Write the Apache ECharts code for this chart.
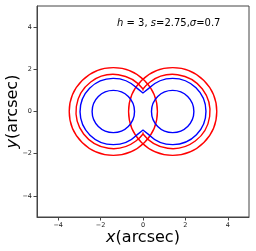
<!DOCTYPE html>
<html>
<head>
<meta charset="utf-8">
<script src="https://cdn.jsdelivr.net/npm/echarts@6/dist/echarts.min.js"></script>
<style>html,body{margin:0;padding:0;background:#fff}#c{width:256px;height:251px}</style>
</head>
<body>
<div id="c"></div>
<script>
// tick labels
const xTicks = [-4, -2, 0, 2, 4];
const yTicks = [-4, -2, 0, 2, 4];
// lobe centres (x, arcsec)
const lobeCenters = [-1.4, 1.4];
// inner blue circles: radius
const blueInnerR = [1.0, 1.0];
// outer red circles: radius
const redOuterR = [2.08, 2.08];
// outer blue peanut: [lobe radius, |y| of central apex, |x| where it leaves the circle]
const blueOuterShape = [1.57, 0.88, 0.3];
// inner red peanut: [lobe radius, |y| of central apex, |x| where it leaves the circle]
const redInnerShape = [1.76, 1.067, 0];

const chart = echarts.init(document.getElementById('c'), null, {renderer: 'canvas'});
const fmt = v => (v < 0 ? '\u2212' + Math.abs(v) : String(v));

function circleSeries(radii, color) {
  return {
    type: 'custom',
    coordinateSystem: 'cartesian2d',
    silent: true,
    data: lobeCenters.map((cx, i) => [cx, 0, radii[i]]),
    renderItem: function (params, api) {
      const c = api.coord([api.value(0), api.value(1)]);
      const s = api.size([api.value(2), api.value(2)]);
      return {
        type: 'ellipse',
        shape: {cx: c[0], cy: c[1], rx: s[0], ry: s[1]},
        style: {fill: 'none', stroke: color, lineWidth: 1.4}
      };
    }
  };
}

function peanutSeries(shape, color) {
  return {
    type: 'custom',
    coordinateSystem: 'cartesian2d',
    silent: true,
    data: [[shape[0], shape[1], shape[2]]],
    renderItem: function (params, api) {
      const r = api.value(0), a = api.value(1), j = api.value(2);
      const cx = lobeCenters[1];
      const yj = Math.sqrt(r * r - (cx - j) * (cx - j));
      const P1 = api.coord([0, a]);
      const P2 = api.coord([-j, yj]);
      const P3 = api.coord([-j, -yj]);
      const P4 = api.coord([0, -a]);
      const P5 = api.coord([j, -yj]);
      const P6 = api.coord([j, yj]);
      const s = api.size([r, r]);
      const d = 'M' + P1[0] + ' ' + P1[1] +
        ' L' + P2[0] + ' ' + P2[1] +
        ' A' + s[0] + ' ' + s[1] + ' 0 1 0 ' + P3[0] + ' ' + P3[1] +
        ' L' + P4[0] + ' ' + P4[1] +
        ' L' + P5[0] + ' ' + P5[1] +
        ' A' + s[0] + ' ' + s[1] + ' 0 1 0 ' + P6[0] + ' ' + P6[1] + ' Z';
      return {
        type: 'path',
        shape: {pathData: d},
        style: {fill: 'none', stroke: color, lineWidth: 1.4, lineJoin: 'miter'}
      };
    }
  };
}

const axisCommon = {
  type: 'value',
  min: -5,
  max: 5,
  splitLine: {show: false},
  axisLine: {show: true, onZero: false, lineStyle: {color: '#444', width: 1}},
  axisTick: {show: true, length: 3.5, lineStyle: {color: '#444', width: 1}},
  axisLabel: {color: '#222', fontSize: 6.5, fontFamily: 'DejaVu Sans', formatter: fmt}
};

chart.setOption({
  animation: false,
  backgroundColor: '#fff',
  grid: {left: 37, right: 7, top: 6, bottom: 34, containLabel: false, outerBoundsMode: 'none',
    show: true, borderColor: '#444', borderWidth: 1, backgroundColor: 'transparent'},
  xAxis: Object.assign({}, axisCommon, {
    axisTick: Object.assign({}, axisCommon.axisTick, {customValues: xTicks}),
    axisLabel: Object.assign({}, axisCommon.axisLabel, {customValues: xTicks, margin: 5}),
    name: '{i|x}(arcsec)',
    nameLocation: 'middle',
    nameGap: 13,
    nameMoveOverlap: false,
    nameTextStyle: {fontSize: 16, fontFamily: 'DejaVu Sans', color: '#000',
      rich: {i: {fontSize: 16, fontFamily: 'DejaVu Sans', fontStyle: 'italic', color: '#000'}}}
  }),
  yAxis: Object.assign({}, axisCommon, {
    axisTick: Object.assign({}, axisCommon.axisTick, {customValues: yTicks}),
    axisLabel: Object.assign({}, axisCommon.axisLabel, {customValues: yTicks, margin: 5}),
    name: '{i|y}(arcsec)',
    nameLocation: 'middle',
    nameGap: 16,
    nameMoveOverlap: false,
    nameTextStyle: {fontSize: 16, fontFamily: 'DejaVu Sans', color: '#000',
      rich: {i: {fontSize: 16, fontFamily: 'DejaVu Sans', fontStyle: 'italic', color: '#000'}}}
  }),
  graphic: [{
    type: 'text',
    left: 117,
    top: 18,
    style: {
      text: '{i|h} = 3, {i|s}=2.75,{i|σ}=0.7',
      font: '10px "DejaVu Sans"',
      fill: '#000',
      rich: {i: {fontStyle: 'italic', fontSize: 10, fontFamily: 'DejaVu Sans', fill: '#000'}}
    }
  }],
  series: [
    circleSeries(redOuterR, '#ff0000'),
    peanutSeries(redInnerShape, '#ff0000'),
    peanutSeries(blueOuterShape, '#0000ff'),
    circleSeries(blueInnerR, '#0000ff')
  ]
});
</script>
</body>
</html>
